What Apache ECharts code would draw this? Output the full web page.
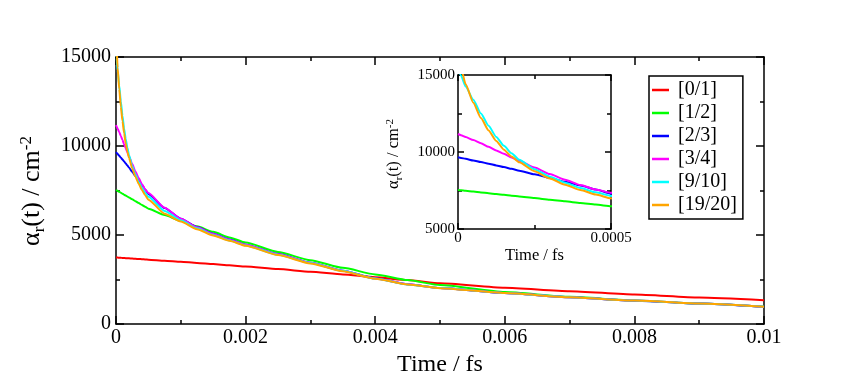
<!DOCTYPE html>
<html><head><meta charset="utf-8">
<script src="https://cdn.jsdelivr.net/npm/echarts@6/dist/echarts.min.js"></script>
<style>html,body{margin:0;padding:0;background:#fff}#c{width:841px;height:382px}</style>
</head><body><div id="c"></div>
<script>
// ---- data ----
const times = [0, 0.00001, 0.000025, 0.00005, 0.000075, 0.0001, 0.000125, 0.00015, 0.000175, 0.0002,
  0.00025, 0.0003, 0.00035, 0.0004, 0.00045, 0.0005, 0.00075, 0.001, 0.00125, 0.0015, 0.00175, 0.002,
  0.0025, 0.003, 0.0035, 0.004, 0.0045, 0.005, 0.006, 0.007, 0.008, 0.009, 0.01];
const seriesNames = ['[0/1]', '[1/2]', '[2/3]', '[3/4]', '[9/10]', '[19/20]'];
const s01 = [3740, 3738, 3734, 3728, 3722, 3716, 3710, 3704, 3698, 3692,
  3680, 3668, 3656, 3644, 3632, 3620, 3560, 3500, 3435, 3370, 3300, 3230,
  3090, 2940, 2790, 2630, 2470, 2290, 2040, 1850, 1660, 1490, 1340];
const s12 = [7533, 7512, 7480, 7428, 7375, 7322, 7270, 7217, 7164, 7112,
  7006, 6901, 6796, 6690, 6585, 6480, 6120, 5800, 5490, 5180, 4870, 4580,
  4050, 3590, 3160, 2790, 2470, 2190, 1800, 1530, 1330, 1160, 980];
const s23 = [9655, 9615, 9555, 9450, 9345, 9240, 9130, 9020, 8905, 8790,
  8555, 8315, 8070, 7820, 7565, 7310, 6520, 5920, 5450, 5070, 4750, 4460,
  3930, 3450, 3000, 2570, 2240, 2025, 1745, 1508, 1318, 1150, 962];
const s34 = [11170, 11090, 10975, 10775, 10570, 10335, 10100, 9880, 9650, 9425,
  8990, 8570, 8200, 7860, 7560, 7360, 6540, 5910, 5440, 5060, 4740, 4450,
  3925, 3445, 2995, 2565, 2238, 2023, 1748, 1510, 1319, 1152, 965];
const s910 = [15500, 14950, 14250, 13400, 12500, 11700, 10980, 10400, 9920, 9500,
  8880, 8400, 8000, 7660, 7380, 7150, 6350, 5830, 5380, 5010, 4700, 4420,
  3900, 3430, 2990, 2560, 2230, 2025, 1750, 1510, 1320, 1154, 968];
const s1920 = [16200, 15450, 14400, 13200, 12200, 11400, 10720, 10150, 9700, 9330,
  8750, 8280, 7880, 7530, 7240, 6990, 6200, 5760, 5330, 4980, 4680, 4400,
  3880, 3410, 2970, 2550, 2225, 2020, 1745, 1507, 1320, 1155, 970];
const seriesValues = [s01, s12, s23, s34, s910, s1920];
const seriesColors = ['#ff0000', '#00ff00', '#0000ff', '#ff00ff', '#00ffff', '#ffa500'];
const mainXTicks = [0, 0.01, 0.002];      // min, max, interval
const mainYTicks = [0, 15000, 5000];
const insetXTicks = [0, 0.0005, 0.0005];
const insetYTicks = [5000, 15000, 5000];
const xTitle = 'Time / fs';

// ---- chart ----
const FF = 'Liberation Serif';
const fmt = v => String(+(+v).toPrecision(6));
function axis(grid, ticks, pos, o) {
  const a = {
    type: 'value', gridIndex: grid, position: pos,
    min: ticks[0], max: ticks[1], interval: ticks[2],
    axisLine: { show: true, onZero: false, lineStyle: { color: '#000', width: o.lw } },
    axisTick: { show: true, inside: true, length: o.major, lineStyle: { color: '#000', width: o.lw } },
    minorTick: { show: true, splitNumber: 2, length: o.minor, lineStyle: { color: '#000', width: o.lw } },
    splitLine: { show: false }, minorSplitLine: { show: false },
    axisLabel: o.label ? { show: true, fontFamily: FF, fontSize: o.fs, color: '#000', margin: o.margin, formatter: fmt, hideOverlap: false }
                       : { show: false }
  };
  return Object.assign(a, o.extra || {});
}
const chart = echarts.init(document.getElementById('c'), null, { renderer: 'canvas' });
const series = [];
seriesValues.forEach((vals, i) => {
  const data = times.map((t, k) => [t, vals[k]]);
  [0, 1].forEach(g => {
    series.push({
      type: 'line', name: seriesNames[i], xAxisIndex: g * 2, yAxisIndex: g * 2,
      data: data, showSymbol: false, symbol: 'none', smooth: 0.2, smoothMonotone: 'x',
      clip: true, animation: false, z: 2 + i,
      lineStyle: { color: seriesColors[i], width: 2, join: 'round' }, itemStyle: { color: seriesColors[i] }
    });
  });
});
const mainO = { lw: 1.5, major: 8, minor: 4, fs: 20 };
const insO = { lw: 1.5, major: 6, minor: 4, fs: 15 };
chart.setOption({
  animation: false,
  backgroundColor: '#fff',
  grid: [
    { left: 116, top: 57, width: 648, height: 268 },
    { left: 458, top: 75, width: 153, height: 154 }
  ],
  xAxis: [
    axis(0, mainXTicks, 'bottom', Object.assign({ label: true, margin: 4, extra: {
      name: xTitle, nameLocation: 'middle', nameGap: 21,
      nameTextStyle: { fontFamily: FF, fontSize: 24, color: '#000' } } }, mainO)),
    axis(0, mainXTicks, 'top', Object.assign({ label: false }, mainO)),
    axis(1, insetXTicks, 'bottom', Object.assign({ label: true, margin: 2, extra: {
      name: xTitle, nameLocation: 'middle', nameGap: 16,
      nameTextStyle: { fontFamily: FF, fontSize: 16.5, color: '#000' } } }, insO)),
    axis(1, insetXTicks, 'top', Object.assign({ label: false }, insO))
  ],
  yAxis: [
    axis(0, mainYTicks, 'left', Object.assign({ label: true, margin: 5 }, mainO)),
    axis(0, mainYTicks, 'right', Object.assign({ label: false }, mainO)),
    axis(1, insetYTicks, 'left', Object.assign({ label: true, margin: 3 }, insO)),
    axis(1, insetYTicks, 'right', Object.assign({ label: false }, insO))
  ],
  legend: {
    data: seriesNames, orient: 'vertical', left: 649, top: 76,
    padding: [4, 6, 4, 3], itemGap: 3, itemWidth: 17, itemHeight: 2.5, icon: 'rect',
    borderColor: '#000', borderWidth: 1.5, backgroundColor: '#fff', selectedMode: false,
    textStyle: { fontFamily: FF, fontSize: 20, color: '#000', lineHeight: 20, padding: [0, 0, 0, 4] }
  },
  graphic: [
    { type: 'text', x: 32, y: 191, rotation: Math.PI / 2, z: 10,
      style: { text: '{a|α}{s|r}{a|(t) / cm}{p|-2}', align: 'center', verticalAlign: 'middle', fill: '#000',
        rich: {
          a: { fontFamily: FF, fontSize: 26, lineHeight: 30, fill: '#000' },
          s: { fontFamily: FF, fontSize: 17, height: 14, verticalAlign: 'bottom', fill: '#000' },
          p: { fontFamily: FF, fontSize: 17, height: 20, verticalAlign: 'top', fill: '#000' }
        } } },
    { type: 'text', x: 393.5, y: 154, rotation: Math.PI / 2, z: 10,
      style: { text: '{a|α}{s|r}{a|(t) / cm}{p|-2}', align: 'center', verticalAlign: 'middle', fill: '#000',
        rich: {
          a: { fontFamily: FF, fontSize: 16.5, lineHeight: 20, fill: '#000' },
          s: { fontFamily: FF, fontSize: 11, height: 9, verticalAlign: 'bottom', fill: '#000' },
          p: { fontFamily: FF, fontSize: 11, height: 13, verticalAlign: 'top', fill: '#000' }
        } } }
  ],
  series: series
});
</script></body></html>
